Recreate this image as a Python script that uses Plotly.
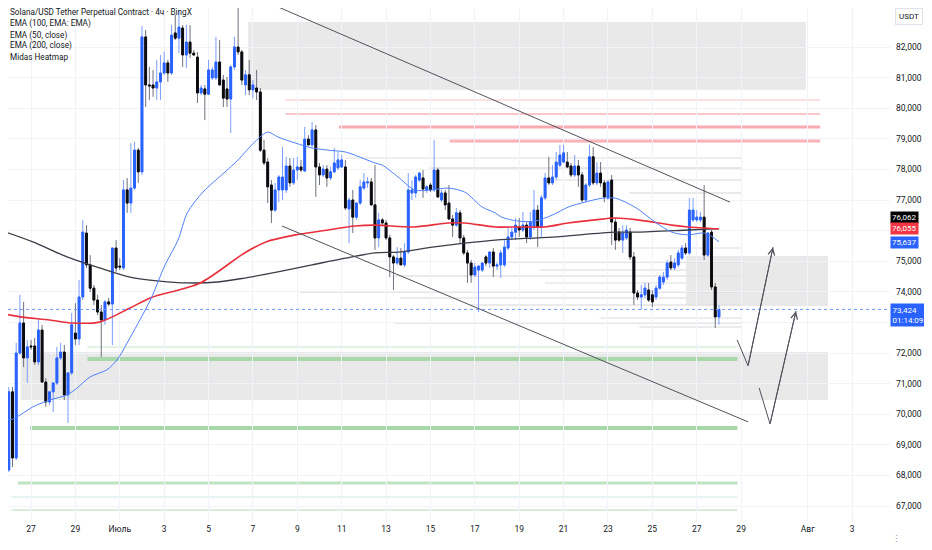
import pandas as pd
import plotly.graph_objects as go

# 4h candles, SOL/USDT perp (BingX)
open_ = [66540, 67620, 68180, 70730, 68570, 72000, 72980, 71840, 72230, 72230,
         71710, 72750, 71050, 70400, 70730, 71020, 71840, 72030, 70630, 71350,
         72650, 72460, 73830, 75920, 74880, 74120, 73730, 73340, 73080, 73670,
         73600, 75430, 74840, 74780, 77330, 76900, 77390, 78630, 77920, 82330,
         80760, 80760, 80660, 80860, 81150, 81480, 81150, 82460, 82290, 82620,
         81740, 82160, 81800, 81670, 80500, 80630, 80460, 80990, 80990, 81510,
         80920, 80630, 80300, 81350, 82000, 81840, 80760, 81090, 80600, 80660,
         80530, 78630, 78240, 77490, 76670, 77330, 77330, 77330, 78110, 77560,
         77980, 78080, 77950, 78990, 78800, 79290, 78080, 77820, 78010, 77720,
         77920, 78050, 78080, 78080, 76710, 77000, 76440, 76900, 77390, 77560,
         77590, 76840, 75760, 76350, 76250, 75760, 75140, 74940, 75100, 74880,
         75300, 77230, 77230, 77650, 77720, 77330, 77490, 77330, 77980, 77000,
         77230, 76900, 76380, 76180, 76580, 75760, 75270, 74940, 74550, 74710,
         74710, 75140, 74940, 75300, 74840, 74880, 74880, 75430, 75790, 75950,
         76120, 76020, 76180, 75790, 76120, 76670, 76120, 77070, 77720, 77560,
         77750, 78140, 78240, 78240, 78110, 77820, 78110, 77820, 77000, 77490,
         78410, 77560, 77880, 77560, 77070, 77650, 76280, 75950, 75690, 75760,
         75950, 75140, 73960, 73830, 73900, 74060, 73900, 73830, 74120, 74320,
         74480, 74970, 74780, 74880, 75100, 75430, 75270, 76350, 76350, 76350,
         76440, 75200, 75950, 74160, 73180]
high = [67850, 68770, 70890, 70890, 72330, 73900, 73670, 72430, 72430, 72490,
        73140, 72920, 71180, 70630, 70950, 72200, 72330, 72260, 70790, 73310,
        73630, 74390, 76350, 76180, 75200, 74220, 73900, 73570, 73730, 73800,
        75430, 75690, 75100, 77650, 77720, 78860, 78900, 78700, 82690, 82560,
        81350, 81250, 81580, 81740, 81840, 81580, 82720, 83050, 83210, 82720,
        82720, 82720, 81900, 81840, 80760, 80760, 81580, 81350, 82330, 82230,
        81090, 81020, 81410, 82330, 83700, 81900, 81250, 81580, 80920, 81250,
        80660, 78960, 78370, 77650, 77560, 77820, 78730, 78410, 78370, 78370,
        78410, 78310, 79390, 79120, 79550, 79450, 78210, 78140, 78140, 78080,
        78700, 78570, 78470, 78310, 77070, 77330, 76670, 77650, 77880, 77750,
        77720, 78140, 76580, 76410, 76350, 75860, 75200, 75460, 75430, 75590,
        77880, 77650, 77820, 77920, 77980, 77490, 77560, 78960, 78050, 77330,
        77330, 77490, 76510, 76740, 76670, 75860, 75370, 75040, 74940, 74880,
        74970, 75200, 75300, 75430, 74970, 75370, 75690, 76120, 76120, 76410,
        76410, 76610, 76280, 76610, 77330, 76840, 77160, 77880, 78410, 78140,
        78570, 78800, 78800, 78570, 78210, 78470, 78310, 77920, 77560, 78800,
        78730, 78240, 78240, 77650, 77650, 77820, 76410, 76090, 76180, 76180,
        76090, 75300, 74060, 74220, 74290, 74290, 74060, 74220, 74550, 74650,
        75040, 75200, 75100, 75370, 75530, 75590, 77070, 77070, 76670, 76610,
        77490, 75950, 76020, 74290, 73570]
low = [66480, 67520, 68110, 68270, 68500, 71940, 71540, 71020, 72100, 71610,
       71610, 71050, 70240, 70300, 70070, 70950, 71770, 70460, 69710, 71280,
       72260, 72260, 73730, 74780, 73990, 73570, 73240, 71870, 72920, 73540,
       72260, 74650, 74710, 74710, 76580, 76580, 77330, 77560, 77820, 80040,
       80270, 80370, 80270, 80270, 81090, 80860, 81090, 82230, 81800, 81350,
       81310, 81640, 81710, 80170, 80430, 79610, 80430, 80920, 80920, 80760,
       80040, 80040, 79190, 81250, 81740, 80760, 80430, 80430, 80330, 80270,
       78570, 78140, 76900, 76250, 76610, 76930, 77000, 77230, 77430, 77490,
       77650, 77920, 77920, 78800, 78730, 77100, 77490, 77750, 77430, 77650,
       77880, 77980, 78050, 76670, 75590, 75920, 76350, 76840, 77330, 77390,
       76840, 75370, 75460, 76180, 75690, 74480, 74060, 74880, 74880, 74810,
       75240, 77000, 77070, 77590, 77070, 77230, 77260, 77260, 77070, 76930,
       76670, 76350, 75790, 76120, 75590, 75200, 74290, 74290, 74480, 73340,
       74650, 74840, 74780, 74480, 74710, 74450, 74810, 75370, 75690, 75690,
       75790, 75950, 75590, 75690, 76020, 75460, 75790, 77000, 77490, 77490,
       77650, 78080, 78210, 78050, 77750, 77750, 77430, 76930, 76930, 77430,
       77490, 77490, 77430, 76930, 77000, 75530, 75370, 75630, 75270, 75690,
       75040, 73570, 73730, 73410, 73800, 73670, 73500, 73730, 74060, 74220,
       74390, 74710, 74710, 74810, 75040, 75200, 75200, 76280, 76280, 76280,
       75040, 75140, 74060, 72820, 72920]
close = [67620, 68180, 70730, 68570, 72000, 72980, 71840, 72200, 72200, 71710,
         72750, 71050, 70400, 70730, 71020, 71840, 72030, 70630, 71350, 72920,
         72460, 73830, 75950, 74880, 74120, 73730, 73340, 73080, 73670, 73600,
         75430, 74780, 74810, 77330, 76900, 77390, 78630, 77920, 82330, 80760,
         80730, 80660, 80860, 81150, 81480, 81150, 82390, 82290, 82650, 81740,
         82160, 81800, 81740, 80500, 80660, 80460, 81250, 81250, 81510, 80760,
         80330, 80300, 81350, 82000, 81840, 80920, 81090, 80600, 80760, 80530,
         78630, 78210, 77430, 76670, 77330, 77750, 77750, 78110, 77560, 77980,
         78080, 77980, 78990, 78800, 79290, 78080, 77820, 78010, 77720, 77920,
         78210, 78310, 78310, 76740, 77000, 76440, 76900, 77430, 77590, 77590,
         76840, 75760, 76350, 76250, 75760, 75140, 74940, 75100, 74880, 75300,
         77330, 77330, 77750, 77880, 77360, 77430, 77330, 77980, 77100, 77230,
         76840, 76380, 76180, 76580, 75760, 75270, 74940, 74550, 74810, 74840,
         74940, 74940, 75300, 74840, 74880, 75270, 75460, 75790, 75950, 76180,
         76020, 76180, 75790, 76280, 76670, 76120, 77070, 77720, 77560, 77750,
         78240, 78470, 78540, 78080, 77820, 78110, 77820, 77000, 77490, 78410,
         77560, 77880, 77560, 77100, 77590, 76280, 75690, 75690, 75920, 76020,
         75140, 73960, 73830, 73900, 74120, 73730, 73670, 74120, 74480, 74480,
         74940, 74780, 74940, 75270, 75430, 75270, 76670, 76670, 76440, 76440,
         75200, 75920, 74160, 73180, 73424]
times = pd.date_range(end="2025-07-28 00:00", periods=len(close), freq="4h")

# moving averages
ema50_t = ["2025-06-25 14:00", "2025-06-26 01:00", "2025-06-26 12:00", "2025-06-27 02:00",
           "2025-06-27 20:00", "2025-06-28 15:00", "2025-06-29 02:00", "2025-06-29 16:00",
           "2025-06-30 10:00", "2025-06-30 21:00", "2025-07-01 08:00", "2025-07-02 09:00",
           "2025-07-03 01:00", "2025-07-03 15:00", "2025-07-04 01:00", "2025-07-04 18:00",
           "2025-07-05 18:00", "2025-07-06 08:00", "2025-07-07 02:00", "2025-07-07 16:00",
           "2025-07-08 03:00", "2025-07-08 22:00", "2025-07-09 16:00", "2025-07-10 09:00",
           "2025-07-11 04:00", "2025-07-11 14:00", "2025-07-12 12:00", "2025-07-12 20:00",
           "2025-07-13 13:00", "2025-07-14 07:00", "2025-07-15 02:00", "2025-07-15 19:00",
           "2025-07-16 13:00", "2025-07-17 08:00", "2025-07-17 22:00", "2025-07-18 05:00",
           "2025-07-18 23:00", "2025-07-19 17:00", "2025-07-20 12:00", "2025-07-21 05:00",
           "2025-07-21 23:00", "2025-07-22 18:00", "2025-07-23 08:00", "2025-07-24 05:00",
           "2025-07-25 03:00", "2025-07-25 21:00", "2025-07-26 15:00", "2025-07-27 09:00",
           "2025-07-28 00:00"]
ema50_v = [69970, 69810, 69970, 70240, 70460, 70630, 70860, 71220, 71450, 71770,
           72330, 73730, 74880, 75690, 76580, 77260, 77920, 78310, 78900, 79220,
           79060, 78860, 78700, 78630, 78570, 78470, 78210, 78140, 77750, 77330,
           77330, 77390, 77260, 76770, 76580, 76440, 76310, 76310, 76510, 76770,
           76930, 77060, 77060, 76770, 76280, 75950, 75860, 75920, 75637]

ema100_t = ["2025-06-25 14:00", "2025-06-26 12:00", "2025-06-27 20:00", "2025-06-28 21:00",
            "2025-06-30 02:00", "2025-07-01 11:00", "2025-07-02 09:00", "2025-07-04 15:00",
            "2025-07-06 15:00", "2025-07-07 14:00", "2025-07-08 22:00", "2025-07-10 09:00",
            "2025-07-11 14:00", "2025-07-12 12:00", "2025-07-14 07:00", "2025-07-15 19:00",
            "2025-07-16 13:00", "2025-07-17 22:00", "2025-07-18 23:00", "2025-07-20 04:00",
            "2025-07-21 05:00", "2025-07-22 10:00", "2025-07-23 08:00", "2025-07-24 08:00",
            "2025-07-25 21:00", "2025-07-26 15:00", "2025-07-28 00:00"]
ema100_v = [73310, 73180, 73080, 72980, 73010, 73470, 73800, 74290, 75270, 75630,
            75860, 76020, 76150, 76180, 76120, 76250, 76250, 76120, 76120, 76120,
            76250, 76350, 76410, 76350, 76180, 76120, 76055]

ema200_t = ["2025-06-25 14:00", "2025-06-27 02:00", "2025-06-28 15:00", "2025-06-30 02:00",
            "2025-07-01 11:00", "2025-07-02 19:00", "2025-07-04 00:00", "2025-07-05 10:00",
            "2025-07-06 15:00", "2025-07-08 03:00", "2025-07-09 16:00", "2025-07-11 04:00",
            "2025-07-12 12:00", "2025-07-13 13:00", "2025-07-15 02:00", "2025-07-16 13:00",
            "2025-07-17 22:00", "2025-07-20 12:00", "2025-07-23 08:00", "2025-07-24 08:00",
            "2025-07-26 15:00", "2025-07-28 00:00"]
ema200_v = [76020, 75630, 75140, 74780, 74480, 74350, 74290, 74320, 74450, 74650,
            74880, 75100, 75270, 75300, 75460, 75590, 75690, 75790, 75950, 75950,
            76020, 76062]

# drawings
zone_start = ["2025-07-06 18:45", "2025-07-26 12:30", "2025-06-26 13:00"]
zone_end = ["2025-07-31 22:00", "2025-08-01 22:00", "2025-08-01 22:00"]
zone_low = [80600, 73540, 70460]
zone_high = [82820, 75170, 72030]

pink_levels = [80270, 79810, 79390, 78930]
pink_start = ["2025-07-08 11:00", "2025-07-08 11:00", "2025-07-10 21:00", "2025-07-15 21:00"]
pink_end = "2025-08-01 13:30"

green_levels = [72200, 71800, 69550, 67750, 67290, 66870]
green_start = ["2025-06-29 13:00", "2025-06-29 13:00", "2025-06-26 23:00",
               "2025-06-26 10:00", "2025-06-26 03:00", "2025-06-26 03:00"]
green_end = "2025-07-28 20:00"

heat_levels = [78900, 78370, 78050, 77650, 77230, 75430, 74970, 74710,
               74520, 74290, 73990, 73800, 73570, 73140, 72980, 72850]
heat_start = ["2025-07-15 23:00", "2025-07-11 04:00", "2025-07-14 23:00", "2025-07-20 14:00",
              "2025-07-23 23:00", "2025-07-18 20:00", "2025-07-18 09:00", "2025-07-19 22:00",
              "2025-07-13 09:00", "2025-07-20 04:00", "2025-07-09 03:00", "2025-07-13 15:00",
              "2025-07-16 19:00", "2025-07-22 15:00", "2025-07-13 09:00", "2025-07-24 10:00"]
heat_end = "2025-07-29 00:00"

trend_t = [["2025-07-06 17:30", "2025-07-28 12:00"], ["2025-07-08 07:30", "2025-07-29 07:30"]]
trend_v = [[83750, 76930], [76150, 69750]]

arrow_t = [["2025-07-28 19:40", "2025-07-29 07:30", "2025-07-30 10:30"],
           ["2025-07-29 19:30", "2025-07-30 07:15", "2025-07-31 11:20"]]
arrow_v = [[72430, 71580, 75460], [70860, 69680, 73370]]

last_price = 73424
countdown = "01:14:09"
ema_tags = [76062, 76055, 75637]

tick_dates = ["2025-06-27", "2025-06-29", "2025-07-01", "2025-07-03", "2025-07-05",
              "2025-07-07", "2025-07-09", "2025-07-11", "2025-07-13", "2025-07-15",
              "2025-07-17", "2025-07-19", "2025-07-21", "2025-07-23", "2025-07-25",
              "2025-07-27", "2025-07-29", "2025-08-01", "2025-08-03"]
tick_text = ["27", "29", "Июль", "3", "5", "7", "9", "11", "13", "15", "17", "19",
             "21", "23", "25", "27", "29", "Авг", "3"]
price_ticks = list(range(67000, 83000, 1000))
hidden_ticks = [73000, 76000]  # covered by the price tags on the scale

legend_lines = ["Solana/USD Tether Perpetual Contract · 4ч · BingX",
                "EMA (100, EMA: EMA)", "EMA (50, close)", "EMA (200, close)", "Midas Heatmap"]

FONT = "Roboto, Noto Sans, sans-serif"
TXT = "#131722"

fig = go.Figure()

# wicks (light) underneath, bodies on top
fig.add_trace(go.Candlestick(
    x=times, open=open_, high=high, low=low, close=close,
    increasing=dict(line=dict(color="#7c9eff", width=1), fillcolor="#7c9eff"),
    decreasing=dict(line=dict(color="#6f727c", width=1), fillcolor="#6f727c"),
    whiskerwidth=0, showlegend=False, hoverinfo="skip"))
body_hi = [max(o, c) for o, c in zip(open_, close)]
body_lo = [min(o, c) for o, c in zip(open_, close)]
fig.add_trace(go.Candlestick(
    x=times, open=open_, high=body_hi, low=body_lo, close=close,
    increasing=dict(line=dict(color="#2962ff", width=1), fillcolor="#2962ff"),
    decreasing=dict(line=dict(color="#0b0b0f", width=1), fillcolor="#0b0b0f"),
    whiskerwidth=0, showlegend=False, hoverinfo="skip"))

fig.add_trace(go.Scatter(x=ema200_t, y=ema200_v, mode="lines", hoverinfo="skip",
                         line=dict(color="#3b3e48", width=1.3, shape="spline", smoothing=0.8),
                         showlegend=False))
fig.add_trace(go.Scatter(x=ema100_t, y=ema100_v, mode="lines", hoverinfo="skip",
                         line=dict(color="#e8303d", width=1.6, shape="spline", smoothing=0.8),
                         showlegend=False))
fig.add_trace(go.Scatter(x=ema50_t, y=ema50_v, mode="lines", hoverinfo="skip",
                         line=dict(color="#4f7ffc", width=1, shape="spline", smoothing=0.8),
                         showlegend=False))

# zones
for x0, x1, lo, hi in zip(zone_start, zone_end, zone_low, zone_high):
    fig.add_shape(type="rect", xref="x", yref="y", x0=x0, x1=x1, y0=lo, y1=hi,
                  fillcolor="#e9e9e9", line_width=0, layer="below")

# heatmap bars
heat_colors = ["#e3e3e3", "#e8e8e8", "#dedede", "#e6e6e6"]
for i, (x0, lvl) in enumerate(zip(heat_start, heat_levels)):
    fig.add_shape(type="line", xref="x", yref="y", x0=x0, x1=heat_end, y0=lvl, y1=lvl,
                  line=dict(color=heat_colors[i % 4], width=1.5), layer="below")

pink_styles = [("#fde0e2", 2), ("#fac6ca", 2), ("#f8aab0", 3), ("#f9b4b9", 3)]
for (col, w), x0, lvl in zip(pink_styles, pink_start, pink_levels):
    fig.add_shape(type="line", xref="x", yref="y", x0=x0, x1=pink_end, y0=lvl, y1=lvl,
                  line=dict(color=col, width=w), layer="below")

green_styles = [("#d9efda", 1.5), ("#a8d8aa", 4), ("#a8d8aa", 4), ("#bde2bf", 3),
                ("#dcf0ee", 1.5), ("#cfe9d0", 1.5)]
for (col, w), x0, lvl in zip(green_styles, green_start, green_levels):
    fig.add_shape(type="line", xref="x", yref="y", x0=x0, x1=green_end, y0=lvl, y1=lvl,
                  line=dict(color=col, width=w), layer="below")

# channel lines
for tt, vv in zip(trend_t, trend_v):
    fig.add_trace(go.Scatter(x=tt, y=vv, mode="lines", hoverinfo="skip", showlegend=False,
                             line=dict(color="#50535c", width=1)))

# projected path arrows
for tt, vv in zip(arrow_t, arrow_v):
    fig.add_trace(go.Scatter(x=tt, y=vv, mode="lines", hoverinfo="skip", showlegend=False,
                             line=dict(color="#50535c", width=1)))
    fig.add_annotation(x=tt[-1], y=vv[-1], ax=tt[-2], ay=vv[-2], xref="x", yref="y",
                       axref="x", ayref="y", text="", showarrow=True, arrowhead=5,
                       arrowsize=1.3, arrowwidth=1, arrowcolor="#50535c")

# last price line
fig.add_shape(type="line", xref="paper", yref="y", x0=0, x1=1, y0=last_price, y1=last_price,
              line=dict(color="#6f94ff", width=1, dash="dot"))

# price tags on the scale
tag_styles = [("#000000", 11), ("#f23645", 0), ("#2962ff", -1)]
for (bg, shift), val in zip(tag_styles, ema_tags):
    fig.add_annotation(xref="paper", yref="y", x=1, y=val, xanchor="left", yanchor="middle",
                       text=f"{val:,}", showarrow=False, bgcolor=bg, borderpad=1, yshift=shift,
                       font=dict(family=FONT, size=8, color="white"))
fig.add_annotation(xref="paper", yref="y", x=1, y=last_price, xanchor="left", yanchor="top",
                   text=f"{last_price:,}<br>{countdown}", showarrow=False, align="left",
                   bgcolor="#2962ff", borderpad=1.5, yshift=6,
                   font=dict(family=FONT, size=8, color="white"))
fig.add_annotation(xref="paper", yref="paper", x=1, y=1, xanchor="left", yanchor="top",
                   xshift=5, yshift=0, text="USDT", showarrow=False, bgcolor="white",
                   bordercolor="#e0e3eb", borderwidth=1, borderpad=3,
                   font=dict(family=FONT, size=8, color=TXT))
fig.add_annotation(xref="paper", yref="paper", x=1, y=0, xanchor="left", yanchor="top",
                   xshift=0, yshift=-10, text="⋮", showarrow=False,
                   font=dict(family=FONT, size=9, color="#9598a1"))

# indicator legend, top-left (pixel rows inside the 514 px plot)
legend_y = [4, 15, 27, 38, 49]
for txt, py in zip(legend_lines, legend_y):
    fig.add_annotation(xref="paper", yref="paper", x=0, y=1 - py / 514, xanchor="left",
                       yanchor="middle", xshift=0, text=txt, showarrow=False,
                       font=dict(family=FONT, size=8.2, color=TXT))

# the page body adds an 8px margin, so the figure is sized to fit the window
fig.update_layout(
    width=924, height=542,
    margin=dict(l=0, r=42, t=0, b=28),
    paper_bgcolor="white", plot_bgcolor="white",
    hovermode=False, showlegend=False,
    xaxis=dict(type="date", range=["2025-06-25 23:07", "2025-08-04 17:00"],
               rangeslider=dict(visible=False),
               tickvals=tick_dates, ticktext=tick_text,
               tickfont=dict(family=FONT, size=8.5, color=TXT),
               showgrid=True, gridcolor="#f0f3fa", gridwidth=1,
               showline=False, zeroline=False, ticks=""),
    yaxis=dict(side="right", range=[66477, 83275],
               tickvals=price_ticks,
               ticktext=["" if v in hidden_ticks else f"{v:,}" for v in price_ticks],
               tickfont=dict(family=FONT, size=8.5, color=TXT),
               showgrid=True, gridcolor="#f0f3fa", gridwidth=1,
               showline=False, zeroline=False, ticks="", ticklabelstandoff=5),
)

fig.write_html("out.html")
